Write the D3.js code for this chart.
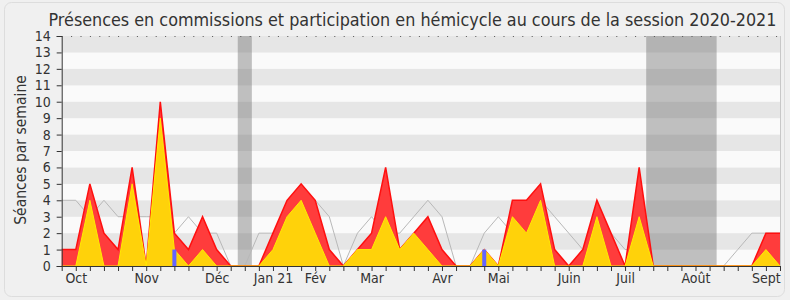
<!DOCTYPE html>
<html>
<head>
<meta charset="utf-8">
<script src="https://cdnjs.cloudflare.com/ajax/libs/d3/7.8.5/d3.min.js"></script>
<style>
    body { margin: 0; background: #f0f0f0; }
    svg text { font-family: "DejaVu Sans Condensed", "DejaVu Sans", sans-serif; font-stretch: condensed; fill: #333; }
</style>
</head>
<body>
<svg id="chart" width="790" height="300"></svg>
<script>
// une valeur par semaine, session 2020-2021
var commission = [1, 1, 5, 2, 1, 6, 0, 10, 2, 1, 3, 1, 0, 0, 0, 2, 4, 5, 4, 1,
    0, 1, 2, 6, 1, 2, 3, 1, 0, 0, 1, 0, 4, 4, 5, 1, 0, 1, 4, 2,
    0, 6, 0, 0, 0, 0, 0, 0, 0, 0, 2, 2];
var hemicycle = [0, 0, 4, 0, 0, 5, 0, 9, 1, 0, 1, 0, 0, 0, 0, 1, 3, 4, 2, 0,
    0, 1, 1, 3, 1, 2, 1, 0, 0, 0, 1, 0, 3, 2, 4, 0, 0, 0, 3, 0,
    0, 3, 0, 0, 0, 0, 0, 0, 0, 0, 1, 0];
var mediane = [4, 4, 3, 4, 3, 3, 3, 3, 2, 3, 2, 2, 0, 0, 2, 2, 2, 3, 4, 3,
    0, 2, 3, 2, 2, 3, 4, 3, 0, 0, 2, 3, 2, 3, 4, 3, 2, 1, 2, 2,
    1, 1, 0, 0, 0, 0, 0, 0, 1, 2, 2, 2];
var questions = [0, 0, 0, 0, 0, 0, 0, 0, 1, 0, 0, 0, 0, 0, 0, 0, 0, 0, 0, 0,
    0, 0, 0, 0, 0, 0, 0, 0, 0, 0, 1, 0, 0, 0, 0, 0, 0, 0, 0, 0,
    0, 0, 0, 0, 0, 0, 0, 0, 0, 0, 0, 0];
var vacances = [[12.5, 13.5], [41.5, 46.5]];
var moisLabels = ["Oct", "Nov", "Déc", "Jan 21", "Fév", "Mar", "Avr", "Mai", "Juin", "Juil", "Août", "Sept"];
var moisSemaines = [1, 6, 11, 15, 18, 22, 27, 31, 36, 40, 45, 50];
var titre = "Présences en commissions et participation en hémicycle au cours de la session 2020-2021";

function drawChart() {
    var svg = d3.select("#chart");
    var left = 61.7, right = 780, top = 36, bottom = 266;

    var x = d3.scaleLinear().domain([0, commission.length - 1]).range([left, right]);
    var y = d3.scaleLinear().domain([0, 14]).range([bottom, top]);

    // cadre
    svg.append("rect")
        .attr("x", 4.5).attr("y", 2.5)
        .attr("width", 780).attr("height", 294)
        .attr("rx", 7)
        .attr("fill", "#f0f0f0")
        .attr("stroke", "#dddddd");

    // bandes horizontales
    svg.append("g").selectAll("rect")
        .data(d3.range(14))
        .enter().append("rect")
        .attr("x", left)
        .attr("width", right - left)
        .attr("y", function (d) { return y(d + 1); })
        .attr("height", function (d) { return y(d) - y(d + 1); })
        .attr("fill", function (d) { return d % 2 ? "#e6e6e6" : "#fafafa"; });

    // vacances parlementaires
    svg.append("g").selectAll("rect")
        .data(vacances)
        .enter().append("rect")
        .attr("x", function (d) { return x(d[0]); })
        .attr("width", function (d) { return x(d[1]) - x(d[0]); })
        .attr("y", top)
        .attr("height", bottom - top)
        .attr("fill", "rgba(110,110,110,0.42)");

    // mediane
    svg.append("path")
        .datum(mediane)
        .attr("fill", "none")
        .attr("stroke", "#b8b8b8")
        .attr("stroke-width", 1)
        .attr("d", d3.line().x(function (d, i) { return x(i); }).y(function (d) { return y(d); }));

    var area = d3.area()
        .x(function (d, i) { return x(i); })
        .y0(y(0))
        .y1(function (d) { return y(d); });
    var line = d3.line()
        .x(function (d, i) { return x(i); })
        .y(function (d) { return y(d); });

    svg.append("path").datum(commission)
        .attr("fill", "#ff3c3c")
        .attr("d", area);
    svg.append("path").datum(commission)
        .attr("fill", "none")
        .attr("stroke", "#ff0f0f")
        .attr("stroke-width", 1.5)
        .attr("d", line);

    svg.append("path").datum(hemicycle)
        .attr("fill", "#ffd20a")
        .attr("d", area);
    svg.append("path").datum(hemicycle)
        .attr("fill", "none")
        .attr("stroke", "#ffec00")
        .attr("stroke-width", 1)
        .attr("d", line);

    // questions orales
    svg.append("g").selectAll("rect")
        .data(questions)
        .enter().append("rect")
        .attr("x", function (d, i) { return x(i) - 2; })
        .attr("width", 4)
        .attr("y", function (d) { return y(d); })
        .attr("height", function (d) { return y(0) - y(d); })
        .attr("fill", "#6464ff");

    // ligne pointillee du haut
    svg.append("line")
        .attr("x1", left).attr("x2", right)
        .attr("y1", top + 0.5).attr("y2", top + 0.5)
        .attr("stroke", "#555")
        .attr("stroke-dasharray", "1,8.4");
    svg.append("line")
        .attr("x1", right + 0.5).attr("x2", right + 0.5)
        .attr("y1", top).attr("y2", bottom)
        .attr("stroke", "#c8c8c8");

    // axes
    var yAxis = svg.append("g")
        .attr("transform", "translate(" + left + ",0)")
        .call(d3.axisLeft(y).tickValues(d3.range(15)).tickSize(5).tickSizeOuter(5).tickPadding(6));
    yAxis.selectAll("text").style("font-size", "14px");

    svg.append("g")
        .attr("transform", "translate(0," + bottom + ")")
        .call(d3.axisBottom(x).tickValues(d3.range(commission.length)).tickSize(5).tickSizeOuter(0).tickFormat(""));

    var mois = svg.append("g")
        .attr("transform", "translate(0," + bottom + ")")
        .call(d3.axisBottom(x).tickValues(moisSemaines).tickSize(0).tickPadding(7)
            .tickFormat(function (d, i) { return moisLabels[i]; }));
    mois.select(".domain").remove();
    mois.selectAll("text").style("font-size", "14px");

    svg.selectAll(".domain, .tick line").attr("stroke", "#333");

    svg.append("text")
        .attr("transform", "translate(26,150) rotate(-90)")
        .attr("text-anchor", "middle")
        .style("font-size", "15.5px")
        .text("Séances par semaine");

    svg.append("text")
        .attr("x", 412.5)
        .attr("y", 25.5)
        .attr("text-anchor", "middle")
        .style("font-size", "17.8px")
        .text(titre);
}

drawChart();
</script>
</body>
</html>
